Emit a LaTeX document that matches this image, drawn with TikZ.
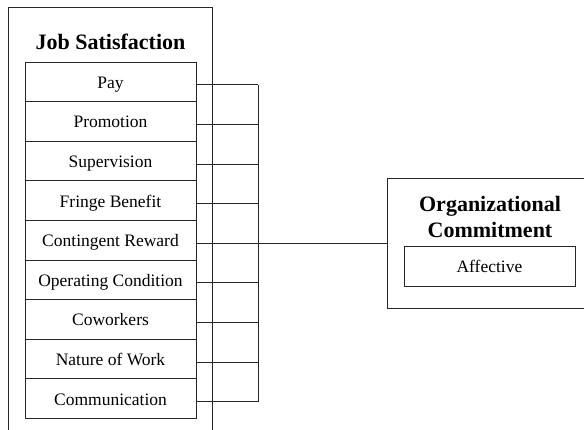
\documentclass[tikz,border=0pt]{standalone}
\usepackage{fontspec}
\setmainfont{Liberation Serif}
\begin{document}
\begin{tikzpicture}[x=1pt,y=-1pt,
  frame/.style={draw=black!85,line width=0.9pt},
  rowbox/.style={frame,minimum width=171pt,minimum height=39.6pt,inner sep=0pt,outer sep=0pt,anchor=north west},
  rowtxt/.style={font=\fontsize{17.5}{20}\selectfont,anchor=base,inner sep=0pt},
  ttl/.style={font=\fontsize{22}{24}\selectfont\bfseries,anchor=base,inner sep=0pt},
  conn/.style={draw=black!85,line width=0.9pt}]
\useasboundingbox (0,0) rectangle (584,430);
\clip (0,0) rectangle (584,430);
\fill[white] (0,0) rectangle (584,430);
% outer job satisfaction frame (open at bottom)
\draw[frame] (8,440) -- (8,7) -- (212,7) -- (212,440);
\node[ttl] (jst) at (110.5,49.5) {Job Satisfaction};
% rows
\foreach \i/\t in {0/Pay,1/Promotion,2/Supervision,3/Fringe Benefit,4/Contingent Reward,5/Operating Condition,6/Coworkers,7/Nature of Work,8/Communication}{
  \node[rowbox] (r\i) at (25,{62+39.6*\i}) {};
  \node[rowtxt] (t\i) at ([yshift=-6.5pt]r\i.center) {\t};
  \coordinate (b\i) at ([yshift=-3pt]r\i.east -| 258,0);
  \draw[conn] ([yshift=-3pt]r\i.east) -- (b\i);
}
\draw[conn] (b0) -- (b8);
% organizational commitment
\node[frame,minimum width=206pt,minimum height=130pt,inner sep=0pt,anchor=north west] (oc) at (387,178) {};
\node[ttl] (oct1) at (490,212) {Organizational};
\node[ttl] (oct2) at (490,238) {Commitment};
\node[frame,minimum width=171pt,minimum height=39.6pt,inner sep=0pt,anchor=north west] (aff) at (403.5,246) {};
\node[rowtxt] (afft) at ([yshift=-6.5pt]aff.center) {Affective};
\draw[conn] (b4) -- (b4 -| oc.west);
\end{tikzpicture}
\end{document}
